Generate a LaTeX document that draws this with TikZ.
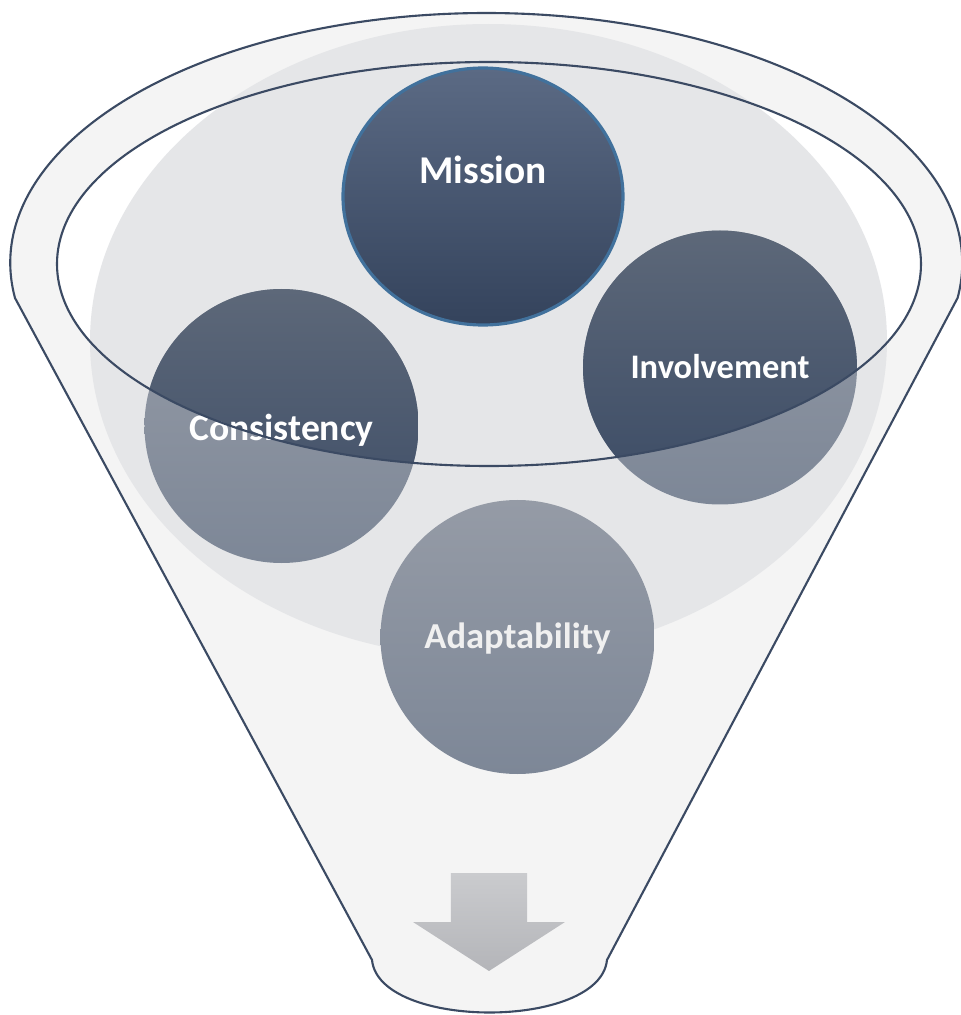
\documentclass[tikz,border=0pt]{standalone}
\usepackage{fontspec}
\setmainfont{Carlito}
\usetikzlibrary{shapes.geometric}

\definecolor{rimline}{HTML}{3B4A63}
\definecolor{funnelbody}{HTML}{F4F4F4}
\definecolor{bowl}{HTML}{E5E6E8}
\definecolor{paletop}{HTML}{959BA6}
\definecolor{palebot}{HTML}{7D8797}
\definecolor{deeptop}{HTML}{5D6879}
\definecolor{deepbot}{HTML}{3B4B65}
\definecolor{missiontop}{HTML}{5B6A84}
\definecolor{missionbot}{HTML}{34435C}
\definecolor{missionedge}{HTML}{41719C}
\definecolor{arrowtop}{HTML}{CACBCE}
\definecolor{arrowbot}{HTML}{B4B5B9}

\tikzset{
  bubble/.style={circle, minimum size=2.74cm, inner sep=0pt,
    top color=paletop, bottom color=palebot},
  deep/.style={top color=deeptop, bottom color=deepbot},
  caption/.style={text=white, inner sep=0pt, text depth=0pt},
  outline/.style={draw=rimline, line width=0.6pt}
}

\begin{document}
\begin{tikzpicture}
\useasboundingbox (0,0) rectangle (9.61,10.15);
% funnel body
\draw[outline, fill=funnelbody] (0.15,7.17)
  arc [start angle=188.05, end angle=-8.05, x radius=4.76, y radius=2.5]
  -- (6.07,0.55) .. controls (6.0,-0.15) and (3.79,-0.15) .. (3.72,0.55) -- cycle;
\fill[white] (4.89,7.51) ellipse [x radius=4.32, y radius=2.02];
\fill[bowl] (4.885,6.74) ellipse [x radius=3.985, y radius=3.17];
\shade[top color=arrowtop, bottom color=arrowbot] (4.51,1.42) -- (5.27,1.42)
  -- (5.27,0.93) -- (5.65,0.93) -- (4.89,0.44) -- (4.13,0.93) -- (4.51,0.93) -- cycle;

\node[bubble] (consistency) at (2.815,5.89) {};
\node[bubble] (involvement) at (7.20,6.475) {};
\node[bubble] (adaptability) at (5.175,3.78) {};
\node[ellipse, minimum width=2.8cm, minimum height=2.57cm, inner sep=0pt,
  top color=missiontop, bottom color=missionbot,
  draw=missionedge, line width=0.9pt] (mission) at (4.83,8.185) {};

% darker where the bubbles sit inside the rim
\begin{scope}
\clip (4.89,7.51) ellipse [x radius=4.32, y radius=2.02];
\shade[deep] (consistency.center) circle [radius=1.37];
\shade[deep] (involvement.center) circle [radius=1.37];
\end{scope}

\node[caption, text height=7.2pt, font=\bfseries\fontsize{11.2}{13}\selectfont]
  (missionText) at ([yshift=2.6mm]mission.center) {Mission};
\node[caption, text height=6.3pt, font=\bfseries\fontsize{9.8}{11}\selectfont]
  (involvementText) at (involvement) {Involvement};
\node[caption, text height=6.9pt, font=\bfseries\fontsize{10.7}{12}\selectfont]
  (consistencyText) at ([yshift=-0.25mm]consistency.center) {Consistency};
\node[caption, text height=6.7pt, font=\bfseries\fontsize{10.4}{12}\selectfont,
  text=white!94!black] (adaptabilityText) at ([yshift=0.05mm]adaptability.center) {Adaptability};

\draw[outline] (4.89,7.51) ellipse [x radius=4.32, y radius=2.02];
\end{tikzpicture}
\end{document}
